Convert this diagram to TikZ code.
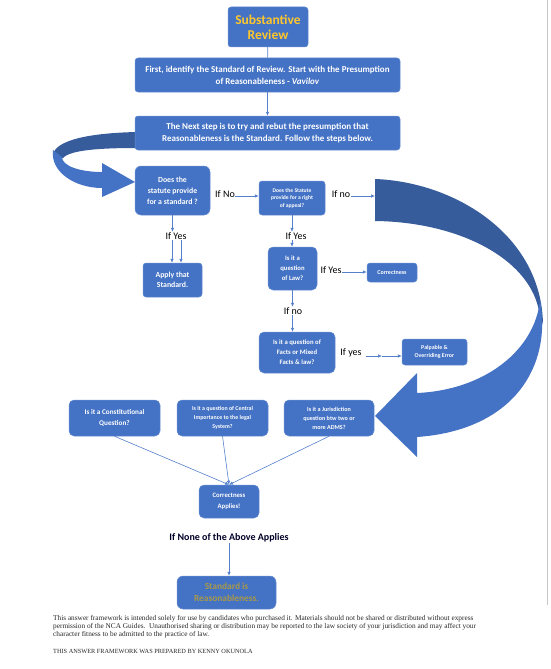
\documentclass[tikz,border=0pt]{standalone}
\usepackage{fontspec}
\setmainfont{Carlito}
\newfontfamily\notefont{Liberation Serif}
\usetikzlibrary{calc, positioning, arrows.meta}
\definecolor{boxblue}{HTML}{4472C4}
\definecolor{boxedge}{HTML}{6A8FD3}
\definecolor{bandblue}{HTML}{375C9C}
\definecolor{titlegold}{HTML}{FFC72C}
\definecolor{reasgold}{HTML}{A8984A}
\definecolor{linkblue}{HTML}{5580CC}
\def\fsz#1#2{\fontsize{#1}{#2}\selectfont}
\tikzstyle{block}=[rectangle, rounded corners=3pt, fill=boxblue, draw=boxedge, line width=0.5pt, text=white, align=center, inner sep=1pt]
\tikzstyle{choice}=[inner sep=0.5pt, text=black, font=\fsz{10}{11}]
\tikzstyle{link}=[draw=linkblue, line width=0.6pt, -{Latex[length=4pt,width=3.5pt]}]
\tikzstyle{band}=[fill=bandblue]
\tikzstyle{turn}=[fill=boxblue]

\begin{document}
\begin{tikzpicture}[x=1pt, y=-1pt]
		\useasboundingbox (0,0) rectangle (550,669);
		\draw[gray!45, line width=0.8pt] (547,0) -- (547,605);

		% Draw the two big curved arrows
		\fill[band] (137,132) .. controls (90,133) and (55,140) .. (53,155) -- (63,158) .. controls (70,150) and (100,148) .. (137,148) -- cycle;
		\fill[turn] (53,150) .. controls (50,172) and (75,188) .. (102,188) -- (102,197) -- (135,182) -- (102,163) -- (102,172) .. controls (80,172) and (62,166) .. (62,157) -- cycle;
		\fill[band] (375,179) .. controls (455,182) and (542,235) .. (543,325) -- (537,303) .. controls (522,255) and (455,222) .. (375,221) -- cycle;
		\fill[turn] (540,300) .. controls (552,365) and (515,430) .. (417,437) -- (417,457) -- (375,416) -- (417,373) -- (417,393) .. controls (485,390) and (535,350) .. (540,300) -- cycle;
		\coordinate (tail) at (375,196);

		% Draw the boxes of the top part
		\node[block, minimum width=80pt, minimum height=40pt, text=titlegold, font=\bfseries\fsz{13.5}{15}] (top) at (268,27) {Substantive\\Review};
		\node[block, minimum width=265pt, minimum height=34pt, font=\bfseries\fsz{9}{12}] (first) at (267.5,75) {First, identify the Standard of Review. Start with the Presumption\\of Reasonableness - \textit{Vavilov}};
		\node[block, minimum width=265pt, minimum height=34pt, font=\bfseries\fsz{9}{12}] (next) at (267.5,133) {The Next step is to try and rebut the presumption that\\Reasonableness is the Standard. Follow the steps below.};

		% Draw the questions
		\node[block, rounded corners=6pt, minimum width=75pt, minimum height=49pt, font=\bfseries\fsz{7.8}{11}] (std) at (172.5,190.5) {Does the\\statute provide\\for a standard ?};
		\node[block, minimum width=66pt, minimum height=34pt, font=\bfseries\fsz{5.6}{7.5}] (appeal) at (292,198) {Does the Statute\\provide for a right\\of appeal?};
		\node[block, minimum width=59pt, minimum height=34pt, font=\bfseries\fsz{7.8}{10}] (apply) at (172.5,280) {Apply that\\Standard.};
		\node[block, rounded corners=5pt, minimum width=49pt, minimum height=43pt, font=\bfseries\fsz{6.7}{10}] (law) at (292.5,268.5) {Is it a\\question\\of Law?};
		\node[block, minimum width=50pt, minimum height=19pt, font=\bfseries\fsz{6}{7}] (corr) at (392,272.5) {Correctness};
		\node[block, rounded corners=5pt, minimum width=76pt, minimum height=41pt, font=\bfseries\fsz{6.7}{10}] (facts) at (297,352.5) {Is it a question of\\Facts or Mixed\\Facts \& law?};
		\node[block, minimum width=65pt, minimum height=26pt, font=\bfseries\fsz{5.9}{8}] (palp) at (434.5,352) {Palpable \&\\Overriding Error};

		% Draw the bottom row
		\node[block, rounded corners=5pt, minimum width=91pt, minimum height=36pt, font=\bfseries\fsz{7.2}{11}] (const) at (114.5,418) {Is it a Constitutional\\Question?};
		\node[block, rounded corners=5pt, minimum width=91pt, minimum height=36pt, font=\bfseries\fsz{5.9}{9}] (central) at (222.5,418) {Is it a question of Central\\Importance to the legal\\System?};
		\node[block, rounded corners=5pt, minimum width=90pt, minimum height=36pt, font=\bfseries\fsz{6.1}{9}] (juris) at (329,418) {Is it a Jurisdiction\\question btw two or\\more ADMS?};
		\node[block, rounded corners=5pt, minimum width=60pt, minimum height=33pt, font=\bfseries\fsz{6.7}{11}] (applies) at (229,501.5) {Correctness\\Applies!};
		\node[inner sep=0.5pt, text=black!85!blue, font=\bfseries\fsz{10}{11}] (none) at (229,538) {If None of the Above Applies};
		\node[block, rounded corners=6pt, minimum width=99pt, minimum height=33pt, text=reasgold, font=\bfseries\fsz{9.4}{12}] (reas) at (226.5,592.5) {Standard is\\Reasonableness.};

		% Label the choices
		\node[choice] (noA) at (225,194) {If No};
		\node[choice] (noB) at (341,194) {If no};
		\node[choice] (yesA) at (176,236) {If Yes};
		\node[choice] (yesB) at (296,236) {If Yes};
		\node[choice] (yesC) at (331,270) {If Yes};
		\node[choice] (noC) at (293,311) {If no};
		\node[choice] (yesD) at (351,353) {If yes};
		\coordinate (mid) at (382,356);

		% Connect the boxes
		\draw[link, -] (top) -- (first);
		\draw[link] (first) -- (next);
		\draw[link] ([yshift=-2pt]noA.east) -- ([yshift=-2pt]noA.east -| appeal.west);
		\draw[link] ([yshift=-2pt]noB.east) -- (tail);
		\draw[link] (std.south) -- (std.south |- yesA.north);
		\foreach \dx in {-4,5}
		\draw[link] ([xshift=\dx pt]yesA.south) -- ([xshift=\dx pt]yesA.south |- apply.north);
		\draw[link] (appeal.south) -- (appeal.south |- yesB.north);
		\draw[link] (appeal.south |- yesB.south) -- (appeal.south |- law.north);
		\draw[link] ([yshift=-2pt]yesC.east) -- ([yshift=-2pt]yesC.east -| corr.west);
		\draw[link] (law.south) -- (law.south |- noC.north);
		\draw[link] (law.south |- noC.south) -- (law.south |- facts.north);
		\draw[link] ([xshift=4pt,yshift=-3pt]yesD.east) -- (mid);
		\draw[link] (mid) -- (mid -| palp.west);
		\foreach \source in {const,central,juris}
		\draw[link] (\source.south) -- (applies.north);
		\draw[link] (none.south) -- (none.south |- reas.north);

		% Note at the foot of the page
		\node[anchor=north west, align=left, inner sep=0pt, text=black!85, font=\notefont\fsz{7.3}{8}] (note) at (53,615) {This answer framework is intended solely for use by candidates who purchased it. Materials should not be shared or distributed without express\\permission of the NCA Guides.\ \ Unauthorised sharing or distribution may be reported to the law society of your jurisdiction and may affect your\\character fitness to be admitted to the practice of law.\\[9pt]{\fsz{6.3}{8}THIS ANSWER FRAMEWORK WAS PREPARED BY KENNY OKUNOLA}};
	\end{tikzpicture}
\end{document}
